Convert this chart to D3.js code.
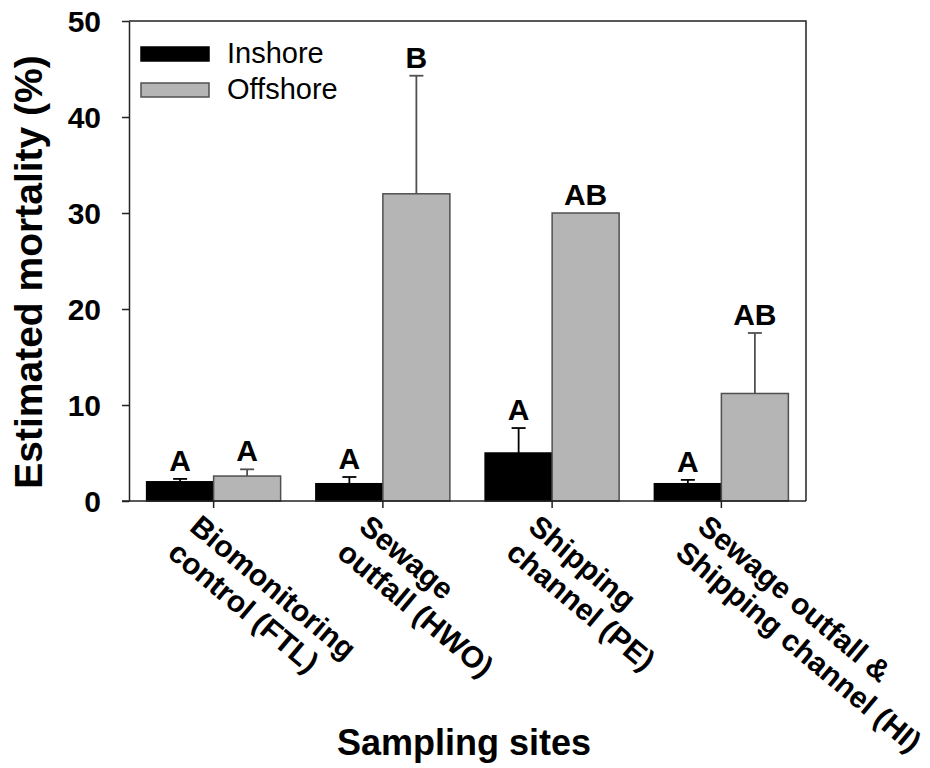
<!DOCTYPE html>
<html>
<head>
<meta charset="utf-8">
<script src="https://cdn.jsdelivr.net/npm/d3@7"></script>
<style>
  body { margin: 0; background: #fff; }
  text { font-family: "Liberation Sans", Arial, sans-serif; }
</style>
</head>
<body>
<div id="my_chart"></div>
<script>
// data
var sites = ["FTL", "HWO", "PE", "HI"];
var siteLabels = [
  ["Biomonitoring", "control (FTL)"],
  ["Sewage", "outfall (HWO)"],
  ["Shipping", "channel (PE)"],
  ["Sewage outfall &", "Shipping channel (HI)"]
];
var series = ["Inshore", "Offshore"];
var inshore = [2.0, 1.8, 5.0, 1.8];
var inshoreErr = [0.3, 0.7, 2.6, 0.4];
var offshore = [2.6, 32.0, 30.0, 11.2];
var offshoreErr = [0.7, 12.3, 0, 6.3];
var inshoreLetters = ["A", "A", "A", "A"];
var offshoreLetters = ["A", "B", "AB", "AB"];
var yTicks = [0, 10, 20, 30, 40, 50];

// plot box in page pixels (note: "top" is reserved on window, so use a margin object)
var width = 930, height = 768;
var box = { left: 129, right: 806, top: 21, bottom: 501 };

var svg = d3
  .select("#my_chart")
  .append("svg")
  .attr("width", width)
  .attr("height", height);

// scales
var x = d3.scaleBand().domain(sites).range([box.left, box.right]).padding(0);
var x1 = d3
  .scaleBand()
  .domain(series)
  .range([0, x.bandwidth()])
  .paddingInner(0)
  .paddingOuter(0.263);
var y = d3.scaleLinear().domain([0, 50]).range([box.bottom, box.top]);

// build rows for the bars
var rows = [];
sites.forEach(function (s, i) {
  rows.push({ site: s, key: "Inshore", value: inshore[i], err: inshoreErr[i], letter: inshoreLetters[i] });
  rows.push({ site: s, key: "Offshore", value: offshore[i], err: offshoreErr[i], letter: offshoreLetters[i] });
});

var fill = { Inshore: "#000000", Offshore: "#b5b5b5" };
var stroke = { Inshore: "#000000", Offshore: "#505050" };

function cx(d) {
  return x(d.site) + x1(d.key) + x1.bandwidth() / 2;
}

// bars
svg
  .append("g")
  .selectAll("rect")
  .data(rows)
  .enter()
  .append("rect")
  .attr("x", function (d) { return x(d.site) + x1(d.key); })
  .attr("y", function (d) { return y(d.value); })
  .attr("width", x1.bandwidth())
  .attr("height", function (d) { return y(0) - y(d.value); })
  .attr("fill", function (d) { return fill[d.key]; })
  .attr("stroke", function (d) { return stroke[d.key]; })
  .attr("stroke-width", 1.5);

// error bars (upper side only)
var eb = svg
  .append("g")
  .selectAll("g")
  .data(rows.filter(function (d) { return d.err > 0; }))
  .enter()
  .append("g")
  .attr("stroke", function (d) { return d.key == "Inshore" ? "#000" : "#505050"; })
  .attr("stroke-width", 1.8);

eb.append("line")
  .attr("x1", cx)
  .attr("x2", cx)
  .attr("y1", function (d) { return y(d.value); })
  .attr("y2", function (d) { return y(d.value + d.err); });

eb.append("line")
  .attr("x1", function (d) { return cx(d) - 7; })
  .attr("x2", function (d) { return cx(d) + 7; })
  .attr("y1", function (d) { return y(d.value + d.err); })
  .attr("y2", function (d) { return y(d.value + d.err); });

// significance letters
svg
  .append("g")
  .selectAll("text")
  .data(rows)
  .enter()
  .append("text")
  .attr("x", cx)
  .attr("y", function (d) { return y(d.value + d.err) - 8; })
  .attr("text-anchor", "middle")
  .attr("font-size", "30px")
  .attr("font-weight", "bold")
  .text(function (d) { return d.letter; });

// frame (top and right)
svg
  .append("path")
  .attr("d", "M" + box.left + "," + box.top + "H" + box.right + "V" + box.bottom)
  .attr("fill", "none")
  .attr("stroke", "#222")
  .attr("stroke-width", 1.5);

// Y axis
var yAxis = svg
  .append("g")
  .attr("transform", "translate(" + box.left + ",0)")
  .call(d3.axisLeft(y).tickValues(yTicks).tickSize(7).tickSizeOuter(0).tickPadding(21));
yAxis.selectAll("path, line").attr("stroke", "#222").attr("stroke-width", 1.5);
yAxis
  .selectAll("text")
  .attr("font-size", "30px")
  .attr("font-weight", "bold")
  .attr("fill", "#000")
  .attr("dy", "0.36em");

// X axis
var xAxis = svg
  .append("g")
  .attr("transform", "translate(0," + box.bottom + ")")
  .call(d3.axisBottom(x).tickSize(7).tickSizeOuter(0).tickFormat(""));
xAxis.select(".domain").attr("d", "M" + (box.left - 7) + ",0H" + box.right);
xAxis.selectAll("path, line").attr("stroke", "#222").attr("stroke-width", 1.5);

// rotated two line category labels
var lab = svg
  .append("g")
  .selectAll("g")
  .data(sites)
  .enter()
  .append("g")
  .attr("transform", function (d) {
    return "translate(" + (x(d) + x.bandwidth() / 2 - 10) + "," + (box.bottom + 10) + ") rotate(40)";
  });

lab
  .selectAll("text")
  .data(function (d, i) { return siteLabels[i]; })
  .enter()
  .append("text")
  .attr("x", 0)
  .attr("y", function (d, j) { return 24 + j * 34; })
  .attr("font-size", "30px")
  .attr("font-weight", "bold")
  .text(function (d) { return d; });

// axis titles
svg
  .append("text")
  .attr("transform", "translate(42,272) rotate(-90)")
  .attr("text-anchor", "middle")
  .attr("font-size", "39px")
  .attr("font-weight", "bold")
  .text("Estimated mortality (%)");

svg
  .append("text")
  .attr("x", 464)
  .attr("y", 755)
  .attr("text-anchor", "middle")
  .attr("font-size", "36px")
  .attr("font-weight", "bold")
  .text("Sampling sites");

// legend
var legend = svg
  .append("g")
  .selectAll("g")
  .data(series)
  .enter()
  .append("g")
  .attr("transform", function (d, i) { return "translate(141," + (47 + i * 36) + ")"; });

legend
  .append("rect")
  .attr("width", 68)
  .attr("height", 14)
  .attr("fill", function (d) { return fill[d]; })
  .attr("stroke", function (d) { return stroke[d]; })
  .attr("stroke-width", 1.5);

legend
  .append("text")
  .attr("x", 86)
  .attr("y", 16)
  .attr("font-size", "29px")
  .text(function (d) { return d; });
</script>
</body>
</html>
